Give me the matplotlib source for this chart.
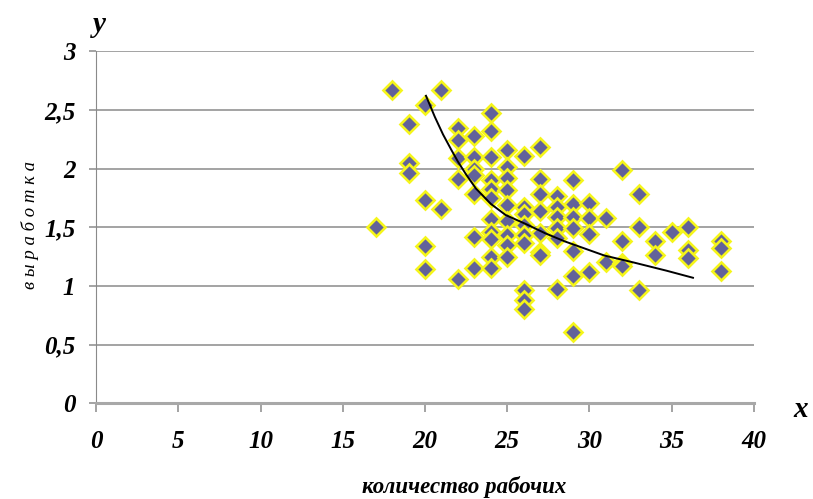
import matplotlib
matplotlib.use("Agg")
import matplotlib.pyplot as plt

# number of workers -> output values
workers = {
    17: [1.50],
    18: [2.67],
    19: [2.38, 2.05, 1.965],
    20: [2.54, 1.73, 1.34, 1.145],
    21: [2.67, 1.655],
    22: [2.35, 2.24, 2.09, 1.91, 1.06],
    23: [2.28, 2.10, 2.00, 1.945, 1.78, 1.42, 1.156],
    24: [2.47, 2.32, 2.10, 1.90, 1.83, 1.75, 1.57, 1.46, 1.40, 1.25, 1.156],
    25: [2.16, 2.01, 1.92, 1.82, 1.69, 1.55, 1.435, 1.35, 1.25],
    26: [2.11, 1.675, 1.61, 1.52, 1.435, 1.37, 0.966, 0.88, 0.80],
    27: [2.18, 1.91, 1.78, 1.64, 1.45, 1.29, 1.26],
    28: [1.77, 1.67, 1.59, 1.49, 1.41, 0.974],
    29: [1.90, 1.70, 1.59, 1.49, 1.30, 1.085, 0.605],
    30: [1.71, 1.58, 1.44, 1.12],
    31: [1.577, 1.207],
    32: [1.99, 1.386, 1.193, 1.17],
    33: [1.78, 1.505, 0.966],
    34: [1.386, 1.264],
    35: [1.457],
    36: [1.505, 1.307, 1.24],
    38: [1.38, 1.32, 1.13],
}
xs = [x for x, ys in workers.items() for _ in ys]
ys = [y for vals in workers.values() for y in vals]

# trend line, read point by point
trend_x = [20.06, 20.6, 21.1, 21.6, 22.0, 22.5, 23.1, 24.0, 24.9, 26.1,
           27.3, 28.5, 29.7, 30.9, 32.7, 34.7, 36.3]
trend_y = [2.62, 2.44, 2.29, 2.16, 2.06, 1.95, 1.83, 1.70, 1.605, 1.53,
           1.45, 1.38, 1.32, 1.26, 1.20, 1.13, 1.07]

xticks = [0, 5, 10, 15, 20, 25, 30, 35, 40]
yticks = [0, 0.5, 1, 1.5, 2, 2.5, 3]
ytick_labels = ["0", "0,5", "1", "1,5", "2", "2,5", "3"]

plt.rcParams["font.family"] = ["Liberation Serif", "DejaVu Serif"]

fig = plt.figure(figsize=(8.13, 4.99), dpi=100)
ax = fig.add_axes([0.1183, 0.1916, 0.8089, 0.7058])

ax.set_xlim(0, 40)
ax.set_ylim(0, 3)
ax.set_xticks(xticks)
ax.set_yticks(yticks)
ax.set_xticklabels([str(t) for t in xticks])
ax.set_yticklabels(ytick_labels)
for lab in ax.get_xticklabels() + ax.get_yticklabels():
    lab.set_fontweight("bold")
    lab.set_fontstyle("italic")
    lab.set_fontsize(18)

ax.grid(axis="y", color="#8a8a8a", linewidth=1.1)
ax.set_axisbelow(True)
for side in ["top", "right"]:
    ax.spines[side].set_visible(False)
ax.spines["left"].set_color("#8a8a8a")
ax.spines["bottom"].set_color("#a8a8a8")
ax.spines["bottom"].set_linewidth(2.2)
ax.tick_params(axis="both", colors="#8a8a8a", width=1.1, labelcolor="black")
ax.tick_params(axis="x", length=6.5, pad=13)
ax.tick_params(axis="y", length=5, pad=10)

ax.plot(xs, ys, linestyle="none", marker="D", markersize=9.5,
        markerfacecolor="#62629a", markeredgecolor="#f5f51a",
        markeredgewidth=1.9, zorder=3)
ax.plot(trend_x, trend_y, color="black", linewidth=1.4, zorder=4)

fig.text(0.122, 0.95, "y", fontsize=21, fontweight="bold", fontstyle="italic",
         ha="center", va="center")
fig.text(0.985, 0.18, "x", fontsize=21, fontweight="bold", fontstyle="italic",
         ha="center", va="center")
fig.text(0.571, 0.025, "количество рабочих", fontsize=16.5, fontweight="bold",
         fontstyle="italic", ha="center", va="center")
fig.text(0.037, 0.549, "в ы р а б о т к а", fontsize=13.5, fontstyle="italic",
         rotation=90, ha="center", va="center")

fig.savefig("out.png", dpi=100)
